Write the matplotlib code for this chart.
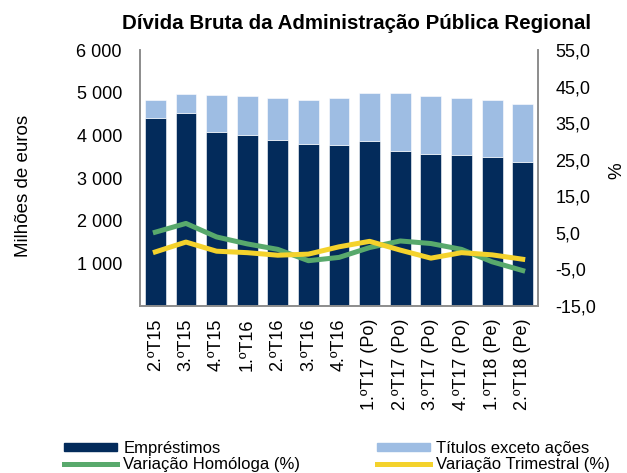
import matplotlib
matplotlib.use("Agg")
import matplotlib.pyplot as plt
import matplotlib.patches as mpatches
import matplotlib.lines as mlines
import numpy as np

plt.rcParams['font.family'] = ['Liberation Sans', 'DejaVu Sans']

# Dados
trimestres = ['2.ºT15', '3.ºT15', '4.ºT15', '1.ºT16', '2.ºT16', '3.ºT16', '4.ºT16',
              '1.ºT17 (Po)', '2.ºT17 (Po)', '3.ºT17 (Po)', '4.ºT17 (Po)',
              '1.ºT18 (Pe)', '2.ºT18 (Pe)']
emprestimos = [4398, 4523, 4070, 4000, 3898, 3789, 3781, 3859, 3645, 3570, 3531, 3484, 3383]
titulos = [437, 438, 883, 929, 969, 1031, 1086, 1125, 1347, 1344, 1344, 1336, 1344]
var_homologa = [5.2, 7.6, 3.9, 2.0, 0.5, -2.6, -1.7, 1.0, 2.8, 2.1, 0.5, -2.9, -5.3]
var_trimestral = [-0.2, 2.5, 0.0, -0.4, -1.1, -0.8, 1.2, 2.7, 0.3, -1.9, -0.4, -1.0, -2.2]

cor_emp = '#032B5B'
cor_tit = '#9EBDE3'
cor_hom = '#58A96C'
cor_tri = '#F4D22C'
cinza = '#8C8C8C'

fig = plt.figure(figsize=(6.27, 4.73), dpi=100)
ax = fig.add_axes([0.2233, 0.353, 0.6348, 0.541])
x = np.arange(len(trimestres))

ax.bar(x, emprestimos, width=0.68, color=cor_emp, edgecolor='white', linewidth=0.4)
ax.bar(x, titulos, width=0.68, bottom=emprestimos, color=cor_tit, edgecolor='white', linewidth=0.4)

ax.set_xlim(-0.5, len(trimestres) - 0.5)
ax.set_ylim(0, 6000)
ax.set_yticks(range(1000, 6001, 1000))
ax.set_yticklabels([f'{v:,}'.replace(',', ' ') for v in range(1000, 6001, 1000)])
ax.set_xticks(x)
ax.set_xticklabels(trimestres, rotation=90)
ax.tick_params(axis='both', length=0, labelsize=13)
ax.tick_params(axis='y', pad=13)
ax.tick_params(axis='x', pad=9)

ax2 = ax.twinx()
ax2.plot(x, var_homologa, color=cor_hom, linewidth=3.6, solid_joinstyle='round')
ax2.plot(x, var_trimestral, color=cor_tri, linewidth=3.6, solid_joinstyle='round')
ax2.set_ylim(-15, 55)
ax2.set_yticks(range(-15, 56, 10))
ax2.set_yticklabels([f'{v:.1f}'.replace('.', ',') for v in range(-15, 56, 10)])
ax2.tick_params(axis='y', length=0, labelsize=13, pad=12.5)

for a in (ax, ax2):
    a.spines['top'].set_visible(False)
    for s in ('left', 'right', 'bottom'):
        a.spines[s].set_color(cinza)
        a.spines[s].set_linewidth(1.2)

fig.text(0.569, 0.938, 'Dívida Bruta da Administração Pública Regional',
         ha='center', va='baseline', fontsize=14.8, fontweight='bold')
fig.text(0.038, 0.607, 'Milhões de euros', rotation=90, ha='center', va='center', fontsize=13.5)
fig.text(0.984, 0.64, '%', rotation=90, ha='center', va='center', fontsize=13.5)

# Legenda
h_emp = mpatches.Patch(color=cor_emp, label='Empréstimos')
h_tit = mpatches.Patch(color=cor_tit, label='Títulos exceto ações')
h_hom = mlines.Line2D([], [], color=cor_hom, linewidth=3.6, label='Variação Homóloga (%)')
h_tri = mlines.Line2D([], [], color=cor_tri, linewidth=3.6, label='Variação Trimestral (%)')
fig.legend(handles=[h_emp, h_hom, h_tit, h_tri], ncol=2, loc='upper left',
           bbox_to_anchor=(0.102, 0.068), frameon=False, fontsize=12,
           borderpad=0, borderaxespad=0, handlelength=3.2, handleheight=0.36,
           handletextpad=0.36, labelspacing=0.05, columnspacing=4.6)

fig.savefig('out.png', dpi=100)
